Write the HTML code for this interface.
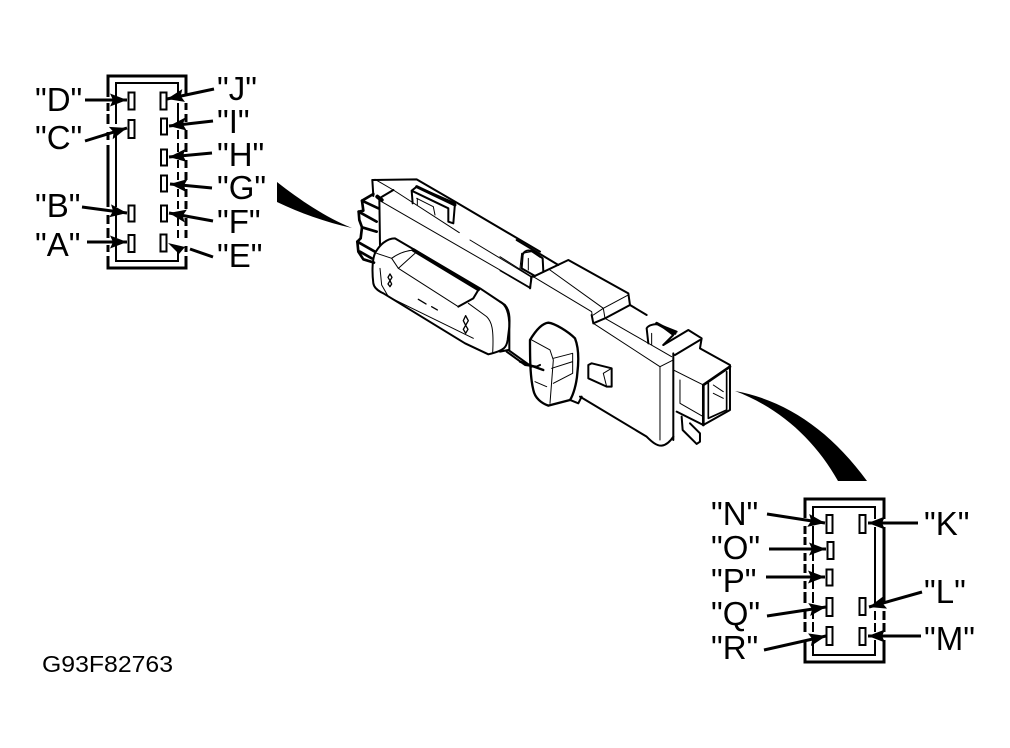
<!DOCTYPE html>
<html><head><meta charset="utf-8"><style>
html,body{margin:0;padding:0;background:#fff}
svg{display:block}
.l{font:33px "Liberation Sans",Arial,sans-serif;fill:#000}
</style></head><body>
<svg width="1010" height="748" viewBox="0 0 1010 748" xmlns="http://www.w3.org/2000/svg">
<defs>
<marker id="a" markerUnits="userSpaceOnUse" markerWidth="20" markerHeight="14" refX="17" refY="6.500" orient="auto"><path d="M0,0L17,6.500L0,13L3,6.500Z" fill="#000"/></marker>
</defs>

<!-- swooshes -->
<path d="M277,182C300,200 325,217 352,228C325,222 300,213 277,202Z" fill="#000"/>
<path d="M735,391C785,400 830,430 867,481L838,481C815,440 780,408 735,391Z" fill="#000"/>

<!-- left connector -->
<g fill="none" stroke="#000">
<rect x="108" y="76" width="78" height="192" stroke-width="3"/>
<rect x="116" y="83" width="62" height="178" stroke-width="2"/>
</g>
<g fill="#fff">
<rect x="104" y="97" width="16" height="6"/><rect x="104" y="111" width="6" height="3"/>
<rect x="104" y="124" width="16" height="8"/><rect x="104" y="140" width="6" height="5"/>
<rect x="104" y="207" width="16" height="8"/><rect x="104" y="224" width="6" height="4"/>
<rect x="104" y="238" width="16" height="7"/><rect x="104" y="252" width="6" height="4"/>
<rect x="174" y="94" width="16" height="9"/><rect x="184" y="110" width="6" height="4"/>
<rect x="174" y="122" width="16" height="8"/><rect x="174" y="139" width="16" height="4"/>
<rect x="174" y="152" width="16" height="8"/><rect x="174" y="168" width="16" height="4"/>
<rect x="174" y="180" width="16" height="9"/><rect x="174" y="197" width="16" height="4"/>
<rect x="174" y="209" width="16" height="9"/><rect x="174" y="226" width="16" height="4"/>
<rect x="174" y="238" width="16" height="8"/><rect x="184" y="252" width="6" height="4"/>
</g>
<g fill="#fff" stroke="#000" stroke-width="2">
<rect x="128.500" y="92.500" width="6" height="17"/>
<rect x="128.500" y="120" width="6" height="18"/>
<rect x="128.500" y="205.500" width="6" height="16"/>
<rect x="128.500" y="235" width="6" height="17"/>
<rect x="160.500" y="92.500" width="6" height="17"/>
<rect x="161" y="118.500" width="6" height="16"/>
<rect x="161" y="149.500" width="6" height="16"/>
<rect x="161" y="175.500" width="6" height="16"/>
<rect x="161" y="205.500" width="6" height="16"/>
<rect x="160.500" y="234.500" width="6" height="17"/>
</g>
<g stroke="#000" stroke-width="3" fill="none" marker-end="url(#a)">
<path d="M85,100L127,100"/>
<path d="M85,141L127,128"/>
<path d="M82,207L127,213"/>
<path d="M87,242L127,242"/>
<path d="M214,89L167,99"/>
<path d="M213,121L169,126"/>
<path d="M212,153L169,157"/>
<path d="M212,188L170,184"/>
<path d="M213,221L169,213"/>
</g>
<path d="M213,257L190,249" stroke="#000" stroke-width="3"/>
<path d="M168,243L185,247L179,254Z" fill="#000"/>

<text class="l" x="35" y="111">"D"</text>
<text class="l" x="35" y="149">"C"</text>
<text class="l" x="35" y="217">"B"</text>
<text class="l" x="35" y="256">"A"</text>
<text class="l" x="217" y="100">"J"</text>
<text class="l" x="217" y="133">"I"</text>
<text class="l" x="217" y="166">"H"</text>
<text class="l" x="217" y="199">"G"</text>
<text class="l" x="217" y="233">"F"</text>
<text class="l" x="217" y="267">"E"</text>

<!-- right connector -->
<g fill="none" stroke="#000">
<rect x="805" y="499" width="79" height="163" stroke-width="3"/>
<rect x="813" y="507" width="62" height="148" stroke-width="2"/>
</g>
<g fill="#fff">
<rect x="801" y="518" width="16" height="8"/><rect x="801" y="534" width="6" height="3"/>
<rect x="801" y="545" width="16" height="8"/><rect x="801" y="561" width="16" height="3"/>
<rect x="801" y="573" width="16" height="8"/><rect x="801" y="589" width="16" height="3"/>
<rect x="801" y="603" width="16" height="8"/><rect x="801" y="619" width="16" height="3"/>
<rect x="801" y="632" width="16" height="8"/>
<rect x="872" y="519" width="16" height="8"/>
<rect x="872" y="603" width="16" height="8"/><rect x="872" y="620" width="16" height="3"/>
<rect x="872" y="632" width="16" height="8"/>
</g>
<g fill="#fff" stroke="#000" stroke-width="2">
<rect x="826.500" y="515" width="6" height="18"/>
<rect x="827.500" y="542" width="6" height="17"/>
<rect x="826.500" y="569.500" width="6" height="16"/>
<rect x="826.500" y="598" width="6" height="18"/>
<rect x="826.500" y="627" width="6" height="18"/>
<rect x="859.500" y="515" width="6" height="18"/>
<rect x="859.500" y="598" width="6" height="17"/>
<rect x="859.500" y="628" width="6" height="17"/>
</g>
<g stroke="#000" stroke-width="3" fill="none" marker-end="url(#a)">
<path d="M767,514L825,523"/>
<path d="M769,549L826,549"/>
<path d="M766,577L825,577"/>
<path d="M767,616L826,607"/>
<path d="M764,650L826,636"/>
<path d="M918,523L868,523"/>
<path d="M922,592L869,607"/>
<path d="M921,636L868,636"/>
</g>
<text class="l" x="711" y="525">"N"</text>
<text class="l" x="711" y="559">"O"</text>
<text class="l" x="711" y="592">"P"</text>
<text class="l" x="711" y="625">"Q"</text>
<text class="l" x="711" y="659">"R"</text>
<text class="l" x="924" y="535">"K"</text>
<text class="l" x="924" y="603">"L"</text>
<text class="l" x="924" y="650">"M"</text>

<text x="42" y="672" font-family="'Liberation Sans',Arial,sans-serif" font-size="23.500" textLength="131" lengthAdjust="spacingAndGlyphs" fill="#000">G93F82763</text>

<!-- part: left half (zoom coordinates) -->
<g transform="translate(340,170) scale(.3333)" fill="none" stroke="#000" stroke-linejoin="round" stroke-linecap="round">
<g stroke-width="6">
<path d="M97,30L230,28L345,95L600,245"/>
<path d="M97,30L100,78M160,60L118,85L120,225"/>
<path d="M215,62L230,50L345,100L340,160L325,155L325,115L215,62L218,100"/>
<path d="M230,50L345,105" stroke-width="9"/>
<path d="M500,545L555,585L590,590L600,585"/>
<path d="M100,340C95,300 98,265 105,250C118,225 140,205 165,205L420,355L495,405C508,420 510,440 508,470L503,510C500,530 495,542 445,553L375,520L130,370C112,362 102,352 100,340Z"/>
<path d="M415,360L400,385L355,410"/>
</g>
<g stroke-width="8">
<path d="M100,72L66,92L70,122L56,125L58,150L66,172L62,205L52,215L55,245L70,268L102,278"/>
<path d="M66,92L115,115M56,125L110,155M66,172L110,185M52,215L105,245M60,245L95,265"/>
<path d="M112,80L125,90" stroke-width="12"/>
</g>
<g stroke-width="3">
<path d="M105,28L160,60L358,188"/>
<path d="M125,95L570,352M390,210L572,320M572,320L572,355"/>
<path d="M230,85L280,110L285,135M232,85V105"/>
<path d="M110,250L155,265L175,295L355,410"/>
<path d="M155,265C175,250 200,242 222,240M175,295L225,250"/>
<path d="M385,400L440,440C455,455 462,475 458,550"/>
<path d="M120,295L125,345L145,380L400,505"/>
<path d="M545,250L575,245L600,262M545,250L540,295M565,265V300"/>
</g>
<path d="M220,240L415,358" stroke-width="11"/>
<g stroke-width="4">
<path d="M150,312L156,322L150,332L144,322ZM150,332L155,342L150,350L144,342Z"/>
<path d="M235,388L258,402M275,410L292,420"/>
<path d="M377,437L385,452L377,466L370,452ZM377,466L384,478L377,490L370,478Z"/>
</g>
</g>

<!-- part: right half (zoom coordinates) -->
<g transform="translate(500,240) scale(.3333)" fill="none" stroke="#000" stroke-linejoin="round" stroke-linecap="round">
<g stroke-width="6">
<path d="M65,85L68,45C72,32 85,28 100,35L128,55L130,95"/>
<path d="M65,85L105,108L95,110L90,145"/>
<path d="M50,0L175,75"/>
<path d="M100,110L205,60L385,160L390,195L315,235L280,250L275,225"/>
<path d="M390,195L440,225"/>
<path d="M445,310L440,265C445,255 465,250 480,255L520,285L490,315M480,255L530,275"/>
<path d="M470,250L525,280" stroke-width="9"/>
<path d="M490,315L565,270L605,295L600,325L690,375L690,510L610,555L530,515"/>
<path d="M525,345L600,300M520,340V600"/>
<path d="M240,470L440,590C455,605 470,618 485,617C500,615 510,605 520,590"/>
<path d="M545,530L548,570L590,612L600,605V580L570,550"/>
<path d="M90,300C105,275 125,250 145,248C165,250 205,275 225,295C235,320 238,350 232,400C230,430 220,465 210,480L145,497C125,490 105,475 100,450C90,410 90,350 90,300Z" stroke-width="7"/>
<path d="M265,375L275,370L335,385L335,440L320,440L265,415Z"/>
<path d="M0,335L25,330L95,380M0,185C20,195 28,220 28,260V330"/>
<path d="M210,480L235,490L245,470"/>
<path d="M610,435V555M610,435L690,380" stroke-width="8"/>
<path d="M625,430V535L680,510V395" stroke-width="5"/>
</g>
<g stroke-width="3">
<path d="M0,50L95,110M0,92L90,145"/>
<path d="M100,110L275,215L280,250L480,380L520,360"/>
<path d="M150,90L310,205L385,165M310,205L315,235L515,350M280,225L310,205"/>
<path d="M455,280V315"/>
<path d="M480,380V600"/>
<path d="M520,390L610,435M540,420V490L610,530"/>
<path d="M95,300L150,330L160,360L150,490M160,355L218,340V400L160,430M105,425L140,440M155,385L218,365"/>
<path d="M310,400L335,385M310,400L320,440"/>
<path d="M640,435L670,455M640,460L670,475"/>
</g>
<path d="M60,365L130,390" stroke-width="7"/>
</g>
</svg>
</body></html>
